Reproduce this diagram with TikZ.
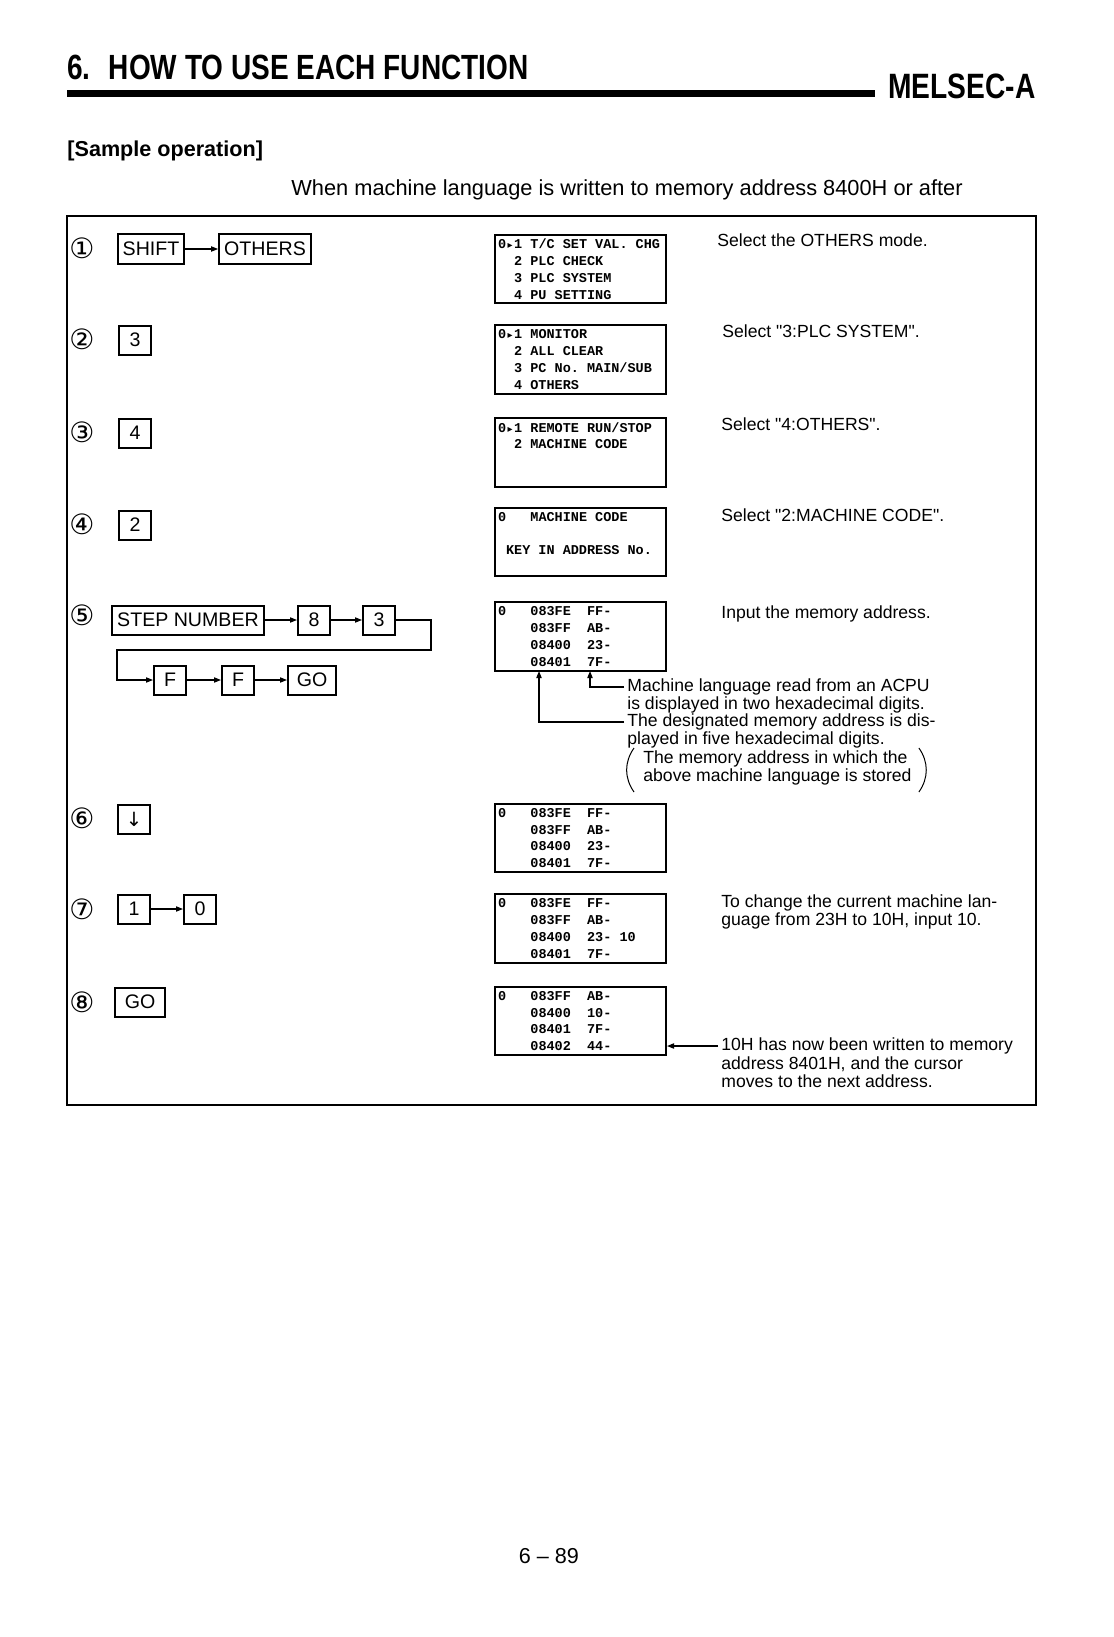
\documentclass[tikz,border=0pt]{standalone}
\usepackage{fontspec}
\setmainfont{Liberation Sans}
\newfontfamily\headfont[FakeStretch=0.8]{Liberation Sans}
\newfontfamily\lcdfont{Liberation Mono}
\newfontfamily\symfont{DejaVu Sans}
\usetikzlibrary{arrows.meta}
\newcommand{\curs}{\makebox[4.05pt]{\symfont\fontsize{5}{5}\selectfont ▸}}
\newcommand{\qt}{\textquotedbl}
\protected\def\lcdsp{\hspace*{4.05pt}}

\begin{document}
\begin{tikzpicture}[x=0.5pt, y=-0.5pt,
    key/.style={draw, line width=1pt, minimum width=16pt, minimum height=14.5pt, inner xsep=2.5pt, inner ysep=1pt, font=\fontsize{9.8}{10}\selectfont},
    lcd/.style={draw, line width=1pt, text width=82.5pt, inner xsep=1.5pt, inner ysep=0pt, minimum height=34.25pt, align=left, font=\lcdfont\bfseries\fontsize{6.75}{8.4}\selectfont\let~\lcdsp},
    num/.style={inner sep=0pt, font=\symfont\fontsize{14}{14}\selectfont},
    note/.style={anchor=west, inner xsep=1.5pt, inner ysep=0pt, text height=6.3pt, text depth=1.8pt, font=\fontsize{8.8}{9.1}\selectfont},
    para/.style={anchor=west, inner xsep=1.5pt, inner ysep=0pt, align=left, font=\fontsize{8.8}{9.1}\selectfont},
    arrow/.style={-{Triangle[length=3.5pt, width=2.6pt]}, line width=0.6pt}
]
    \useasboundingbox (0,0) rectangle (1113,1637);

    \node[anchor=base west, inner sep=0pt, font=\headfont\bfseries\fontsize{17.5}{18}\selectfont] (title) at (67,80) {6.~ HOW TO USE EACH FUNCTION};
    \fill (67,90) rectangle (875,97);
    \node[anchor=base west, inner sep=0pt, font=\headfont\bfseries\fontsize{17.6}{18}\selectfont] (brand) at (888,99) {MELSEC-A};
    \node[anchor=base west, inner sep=0pt, font=\bfseries\fontsize{10.8}{12}\selectfont] (sample) at (67,157) {[Sample operation]};
    \node[anchor=base west, inner sep=0pt, font=\fontsize{10.9}{12}\selectfont] (cond) at (291,196) {When machine language is written to memory address 8400H or after};

    \draw[line width=0.8pt] (67,216) rectangle (1036,1105);

    \node[num] (n1) at (82,248) {①};
    \node[num] (n2) at (82,339) {②};
    \node[num] (n3) at (82,432) {③};
    \node[num] (n4) at (82,524) {④};
    \node[num] (n5) at (82,615) {⑤};
    \node[num] (n6) at (82,818) {⑥};
    \node[num] (n7) at (82,909) {⑦};
    \node[num] (n8) at (82,1002) {⑧};

    \node[key] (shift) at (151,249) {SHIFT};
    \node[key] (others) at (265,249) {OTHERS};
    \node[key] (k3) at (135,340) {3};
    \node[key] (k4) at (135,433) {4};
    \node[key] (k2) at (135,525) {2};
    \node[key] (stepno) at (188,620) {STEP NUMBER};
    \node[key] (k8) at (314,620) {8};
    \node[key] (k3b) at (379,620) {3};
    \node[key] (kf1) at (170,680) {F};
    \node[key] (kf2) at (238,680) {F};
    \node[key, minimum width=24pt] (kgo1) at (312,680) {GO};
    \node[key] (kdown) at (134,819) {\symfont ↓};
    \node[key] (k1) at (134,909) {1};
    \node[key] (k0) at (200,909) {0};
    \node[key, minimum width=25pt] (kgo2) at (140,1002) {GO};

    \coordinate (wrapR) at (431,650);
    \coordinate (wrapL) at (117,650);

    \draw[arrow] (shift) -- (others);
    \draw[arrow] (stepno) -- (k8);
    \draw[arrow] (k8) -- (k3b);
    \draw[arrow] (k3b.east) -| (wrapR) -- (wrapL) |- (kf1.west);
    \draw[arrow] (kf1) -- (kf2);
    \draw[arrow] (kf2) -- (kgo1);
    \draw[arrow] (k1) -- (k0);

    \node[lcd] (s1) at (580.5,269) {0\curs 1~T/C~SET~VAL.~CHG\\~~2~PLC~CHECK\\~~3~PLC~SYSTEM\\~~4~PU~SETTING};
    \node[lcd] (s2) at (580.5,359.5) {0\curs 1~MONITOR\\~~2~ALL~CLEAR\\~~3~PC~No.~MAIN/SUB\\~~4~OTHERS};
    \node[lcd] (s3) at (580.5,452.5) {0\curs 1~REMOTE~RUN/STOP\\~~2~MACHINE~CODE\\~\\~};
    \node[lcd] (s4) at (580.5,542) {0~~~MACHINE~CODE\\~\\~KEY~IN~ADDRESS~No.\\~};
    \node[lcd] (s5) at (580.5,636.5) {0~~~083FE~~FF-\\~~~~083FF~~AB-\\~~~~08400~~23-\\~~~~08401~~7F-};
    \node[lcd] (s6) at (580.5,838) {0~~~083FE~~FF-\\~~~~083FF~~AB-\\~~~~08400~~23-\\~~~~08401~~7F-};
    \node[lcd] (s7) at (580.5,928.5) {0~~~083FE~~FF-\\~~~~083FF~~AB-\\~~~~08400~~23-~10\\~~~~08401~~7F-};
    \node[lcd] (s8) at (580.5,1021) {0~~~083FF~~AB-\\~~~~08400~~10-\\~~~~08401~~7F-\\~~~~08402~~44-};

    \node[note] (d1) at (714,242) {Select the OTHERS mode.};
    \node[note] (d2) at (719,333) {Select \qt 3:PLC SYSTEM\qt.};
    \node[note] (d3) at (718,426) {Select \qt 4:OTHERS\qt.};
    \node[note] (d4) at (718,517) {Select \qt 2:MACHINE CODE\qt.};
    \node[note] (d5) at (718,614) {Input the memory address.};
    \node[note] (m1) at (624,687) {Machine language read from an ACPU};
    \node[note] (m2) at (624,705) {is displayed in two hexadecimal digits.};
    \node[note] (m3) at (624,722) {The designated memory address is dis-};
    \node[note] (m4) at (624,740) {played in five hexadecimal digits.};
    \node[para] (m5) at (640,768) {The memory address in which the\\above machine language is stored};
    \node[para] (d7) at (718,912) {To change the current machine lan-\\guage from 23H to 10H, input 10.};
    \node[note] (w1) at (718,1046) {10H has now been written to memory};
    \node[note] (w2) at (718,1065) {address 8401H, and the cursor};
    \node[note] (w3) at (718,1083) {moves to the next address.};

    \draw[line width=0.5pt] ([shift={(-6,-20)}]m5.west) to[bend right=35] ([shift={(-6,24)}]m5.west);
    \draw[line width=0.5pt] ([shift={(4,-20)}]m5.east) to[bend left=35] ([shift={(4,24)}]m5.east);

    \coordinate (hexcol) at (590,671);
    \coordinate (adrcol) at (539,671);
    \draw[arrow] (m1.west) -| (hexcol);
    \draw[arrow] (m3.west) -| (adrcol);
    \draw[arrow] (w1.west) -- (w1.west -| s8.east);

    \node[anchor=base, inner sep=0pt, font=\fontsize{10.8}{12}\selectfont] (page) at (549,1563) {6 -- 89};
\end{tikzpicture}
\end{document}
